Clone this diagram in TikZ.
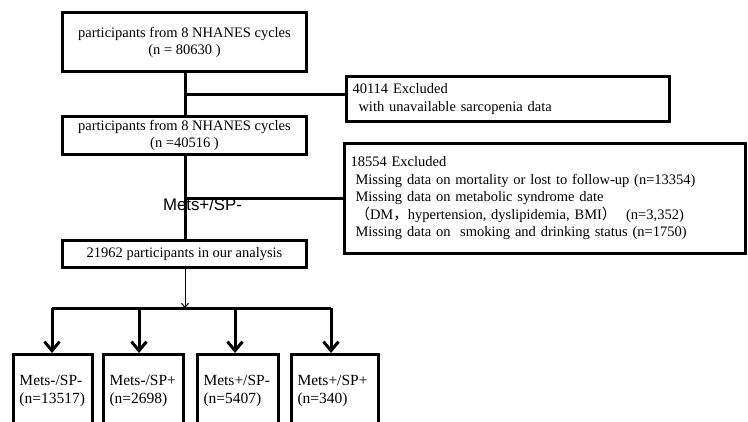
\documentclass[tikz,border=0pt]{standalone}
\usepackage{fontspec}
\setmainfont{Liberation Serif}
\newfontfamily\labelfont{Liberation Sans}
\newfontfamily\cjk{Noto Sans CJK SC}
\usetikzlibrary{arrows.meta}
\begin{document}
\begin{tikzpicture}[x=1pt, y=-1pt,
  box/.style={draw, line width=3pt, inner sep=0pt, align=center, minimum width=244, font=\fontsize{14.5}{17}\selectfont},
  exbox/.style={draw, line width=3pt, inner xsep=6pt, inner ysep=0pt, align=left, font=\fontsize{14.5}{17.5}\selectfont},
  group/.style={draw, line width=3pt, inner xsep=6pt, inner ysep=0pt, align=left, minimum height=74, font=\fontsize{15.5}{18}\selectfont},
  link/.style={line width=3pt},
  branch/.style={line width=3pt, -{Straight Barb[length=9pt, width=15pt]}}]
\useasboundingbox (0,0) rectangle (748,421);
% main column
\node[box, minimum height=59] (all) at (184.5,42){participants from 8 NHANES cycles\\(n = 80630 )};
\node[box, minimum height=38] (sarc) at (184.5,135.5){participants from 8 NHANES cycles\\(n =40516 )};
\node[box, minimum height=27] (final) at (184.5,254){21962 participants in our analysis};
% exclusions
\node[exbox, text width=311, minimum height=45] (ex1) at (508,99){40114 Excluded\\\hspace*{6pt}with unavailable sarcopenia data\\[-4pt]};
\node[exbox, text width=389, minimum height=110] (ex2) at (545,198.5){18554 Excluded\\
\hspace*{5pt}Missing data on mortality or lost to follow-up (n=13354)\\
\hspace*{5pt}Missing data on metabolic syndrome date\\
\hspace*{5pt}{\cjk （}DM{\cjk ，}hypertension, dyslipidemia, BMI{\cjk ）}\ \ (n=3,352)\\
\hspace*{5pt}Missing data on\ \ smoking and drinking status (n=1750)};
\coordinate (j1) at (185,94);
\coordinate (j2) at (185,198);
\draw[link] (all.south -| j1) -- (sarc.north -| j1);
\draw[link] (j1) -- (j1 -| ex1.west);
\draw[link] (sarc.south -| j2) -- (final.north -| j2);
\draw[link] (j2) -- (j2 -| ex2.west);
\node[font=\labelfont\fontsize{16.8}{18}\selectfont, anchor=base, inner sep=0pt] (lbl) at (202.5,210){Mets+/SP-};
% groups
\node[group, text width=67] (g1) at (53,391.5){Mets-/SP-\\(n=13517)};
\node[group, text width=68] (g2) at (143.5,391.5){Mets-/SP+\\(n=2698)};
\node[group, text width=69] (g3) at (238,391.5){Mets+/SP-\\(n=5407)};
\node[group, text width=75] (g4) at (335,391.5){Mets+/SP+\\(n=340)};
\coordinate (s) at (185,308);
\coordinate (h1) at (52,308);
\coordinate (h2) at (139,308);
\coordinate (h3) at (235,308);
\coordinate (h4) at (331,308);
\draw[line width=1pt, -{Straight Barb[length=4pt, width=7pt]}] (final.south -| s) -- (s);
\draw[link] (h1) -- (h4);
\draw[branch] (h1) -- (h1 |- g1.north);
\draw[branch] (h2) -- (h2 |- g2.north);
\draw[branch] (h3) -- (h3 |- g3.north);
\draw[branch] (h4) -- (h4 |- g4.north);
\end{tikzpicture}
\end{document}
